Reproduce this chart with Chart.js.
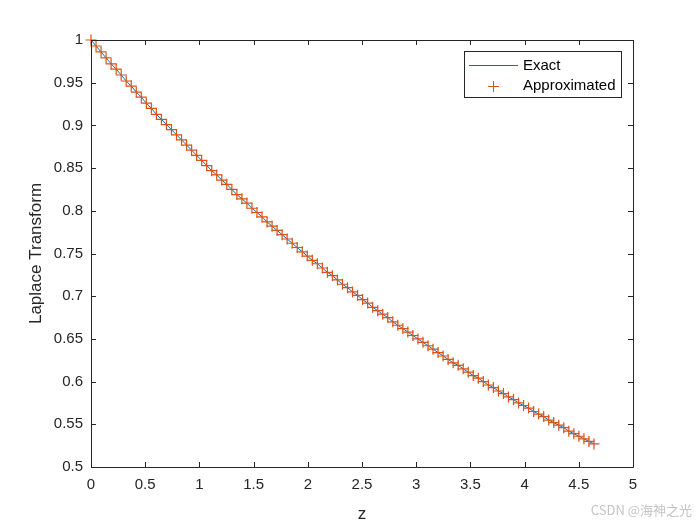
<!DOCTYPE html>
<html>
<head>
<meta charset="utf-8">
<title>Laplace Transform</title>
<script src="https://cdn.jsdelivr.net/npm/chart.js@4.4.0/dist/chart.umd.min.js"></script>
<style>
    html, body { margin: 0; padding: 0; background: #ffffff; }
    #wrap { width: 700px; height: 525px; }
</style>
</head>
<body>
<div id="wrap"><canvas id="laplace-chart" width="700" height="525"></canvas></div>
<script>
// z values (marker positions along the x axis)
const zValues = [
    0, 0.0464, 0.0928, 0.1392, 0.1856, 0.232, 0.2784, 0.3248, 0.3712, 0.4176,
    0.464, 0.5104, 0.5568, 0.6032, 0.6496, 0.696, 0.7424, 0.7888, 0.8352, 0.8816,
    0.928, 0.9744, 1.0208, 1.0672, 1.1136, 1.16, 1.2064, 1.2528, 1.2992, 1.3456,
    1.392, 1.4384, 1.4848, 1.5312, 1.5776, 1.624, 1.6704, 1.7168, 1.7632, 1.8096,
    1.856, 1.9024, 1.9488, 1.9952, 2.0416, 2.088, 2.1344, 2.1808, 2.2272, 2.2736,
    2.32, 2.3664, 2.4128, 2.4592, 2.5056, 2.552, 2.5984, 2.6448, 2.6912, 2.7376,
    2.784, 2.8304, 2.8768, 2.9232, 2.9696, 3.016, 3.0624, 3.1088, 3.1552, 3.2016,
    3.248, 3.2944, 3.3408, 3.3872, 3.4336, 3.48, 3.5264, 3.5728, 3.6192, 3.6656,
    3.712, 3.7584, 3.8048, 3.8512, 3.8976, 3.944, 3.9904, 4.0368, 4.0832, 4.1296,
    4.176, 4.2224, 4.2688, 4.3152, 4.3616, 4.408, 4.4544, 4.5008, 4.5472, 4.5936,
    4.64
];

// Exact transform
const exactValues = [
    1.000, 0.993, 0.986, 0.979, 0.972, 0.966, 0.959, 0.952, 0.946, 0.939,
    0.933, 0.926, 0.920, 0.913, 0.907, 0.901, 0.895, 0.889, 0.883, 0.877,
    0.871, 0.865, 0.859, 0.853, 0.847, 0.842, 0.836, 0.831, 0.825, 0.819,
    0.814, 0.809, 0.803, 0.798, 0.793, 0.787, 0.782, 0.777, 0.772, 0.767,
    0.762, 0.757, 0.752, 0.747, 0.742, 0.738, 0.733, 0.728, 0.724, 0.719,
    0.714, 0.710, 0.705, 0.701, 0.696, 0.692, 0.687, 0.683, 0.679, 0.675,
    0.670, 0.666, 0.662, 0.658, 0.654, 0.650, 0.646, 0.642, 0.638, 0.634,
    0.630, 0.626, 0.622, 0.619, 0.615, 0.611, 0.607, 0.604, 0.600, 0.596,
    0.593, 0.589, 0.586, 0.582, 0.579, 0.575, 0.572, 0.569, 0.565, 0.562,
    0.559, 0.555, 0.552, 0.549, 0.546, 0.542, 0.539, 0.536, 0.533, 0.530,
    0.527
];

// Approximated values (the '+' markers sit on the curve)
const approxValues = [
    1.000, 0.993, 0.986, 0.979, 0.972, 0.966, 0.959, 0.952, 0.946, 0.939,
    0.933, 0.926, 0.920, 0.913, 0.907, 0.901, 0.895, 0.889, 0.883, 0.877,
    0.871, 0.865, 0.859, 0.853, 0.847, 0.842, 0.836, 0.831, 0.825, 0.819,
    0.814, 0.809, 0.803, 0.798, 0.793, 0.787, 0.782, 0.777, 0.772, 0.767,
    0.762, 0.757, 0.752, 0.747, 0.742, 0.738, 0.733, 0.728, 0.724, 0.719,
    0.714, 0.710, 0.705, 0.701, 0.696, 0.692, 0.687, 0.683, 0.679, 0.675,
    0.670, 0.666, 0.662, 0.658, 0.654, 0.650, 0.646, 0.642, 0.638, 0.634,
    0.630, 0.626, 0.622, 0.619, 0.615, 0.611, 0.607, 0.604, 0.600, 0.596,
    0.593, 0.589, 0.586, 0.582, 0.579, 0.575, 0.572, 0.569, 0.565, 0.562,
    0.559, 0.555, 0.552, 0.549, 0.546, 0.542, 0.539, 0.536, 0.533, 0.530,
    0.527
];

const seriesLabels = ['Exact', 'Approximated'];
const xTickRange = [0, 5, 0.5];
const yTickRange = [0.5, 1, 0.05];
const axisTitles = ['z', 'Laplace Transform'];
const watermark = 'CSDN @海神之光';

const chartConfig = {
    font: '"Liberation Sans", Arial, Helvetica, sans-serif',
    axisColor: '#262626',
    blue: '#0072BD',
    orange: '#D95319',
    tickLen: 5,
};

function toPoints(xs, ys) {
    return xs.map((x, i) => ({ x: x, y: ys[i] }));
}

// MATLAB style labels: 1, 0.95, 0.5 (no padded zeros)
function shortTick(value) {
    return String(Number(value.toFixed(2)));
}

// box, inward ticks on all four sides, legend and watermark (MATLAB look)
const matlabAxesPlugin = {
    id: 'matlabAxes',
    afterDraw(chart) {
        const ctx = chart.ctx;
        const area = chart.chartArea;
        const xs = chart.scales.x;
        const ys = chart.scales.y;
        const tl = chartConfig.tickLen;

        ctx.save();
        ctx.strokeStyle = chartConfig.axisColor;
        ctx.lineWidth = 1;
        ctx.beginPath();
        ctx.rect(Math.round(area.left) + 0.5, Math.round(area.top) + 0.5,
                 Math.round(area.right - area.left), Math.round(area.bottom - area.top));
        xs.ticks.forEach(t => {
            const px = Math.round(xs.getPixelForValue(t.value)) + 0.5;
            ctx.moveTo(px, area.bottom); ctx.lineTo(px, area.bottom - tl);
            ctx.moveTo(px, area.top); ctx.lineTo(px, area.top + tl);
        });
        ys.ticks.forEach(t => {
            const py = Math.round(ys.getPixelForValue(t.value)) + 0.5;
            ctx.moveTo(area.left, py); ctx.lineTo(area.left + tl, py);
            ctx.moveTo(area.right, py); ctx.lineTo(area.right - tl, py);
        });
        ctx.stroke();

        // legend box, top right inside the axes
        const lx = 464.5, ly = 51.5, lw = 157, lh = 46;
        ctx.fillStyle = '#ffffff';
        ctx.fillRect(lx, ly, lw, lh);
        ctx.strokeRect(lx, ly, lw, lh);

        const ds = chart.data.datasets;
        ctx.font = '15px ' + chartConfig.font;
        ctx.textBaseline = 'middle';
        ctx.textAlign = 'left';
        ctx.fillStyle = '#000000';

        // Exact: line sample
        ctx.strokeStyle = chartConfig.blue;
        ctx.beginPath();
        ctx.moveTo(469, 65.5); ctx.lineTo(518, 65.5);
        ctx.stroke();
        ctx.fillText(ds[0].label, 523, 66);

        // Approximated: '+' sample
        ctx.strokeStyle = chartConfig.orange;
        ctx.beginPath();
        ctx.moveTo(488, 86.5); ctx.lineTo(499, 86.5);
        ctx.moveTo(493.5, 81); ctx.lineTo(493.5, 92);
        ctx.stroke();
        ctx.fillText(ds[1].label, 523, 86);

        // watermark
        ctx.font = '13px "Noto Sans CJK SC", "Noto Sans", sans-serif';
        ctx.fillStyle = '#c4c4c4';
        ctx.textAlign = 'right';
        ctx.fillText(watermark, 692, 510);
        ctx.restore();
    }
};

function renderLaplaceChart() {
    const ctx = document.getElementById('laplace-chart');

    new Chart(ctx, {
        type: 'scatter',
        data: {
            datasets: [{
                label: seriesLabels[0],
                data: toPoints(zValues, exactValues),
                showLine: true,
                borderColor: chartConfig.blue,
                borderWidth: 1,
                pointRadius: 0,
                tension: 0,
                order: 2,
            }, {
                label: seriesLabels[1],
                data: toPoints(zValues, approxValues),
                showLine: false,
                pointStyle: 'cross',
                pointRadius: 5.5,
                borderColor: chartConfig.orange,
                backgroundColor: chartConfig.orange,
                pointBorderWidth: 1.2,
                clip: false,
                order: 1,
            }]
        },
        options: {
            responsive: false,
            animation: false,
            devicePixelRatio: 1,
            layout: { padding: { left: 0, top: 40, right: 67, bottom: 0 } },
            scales: {
                x: {
                    type: 'linear',
                    min: xTickRange[0],
                    max: xTickRange[1],
                    grid: { display: false, drawTicks: false },
                    border: { display: false },
                    ticks: {
                        stepSize: xTickRange[2],
                        padding: 9,
                        color: chartConfig.axisColor,
                        font: { family: chartConfig.font, size: 15 },
                        maxRotation: 0,
                        callback: shortTick,
                    },
                    title: {
                        display: true,
                        text: axisTitles[0],
                        color: chartConfig.axisColor,
                        font: { family: chartConfig.font, size: 17 },
                        padding: { top: 8, bottom: 0 },
                    },
                    afterFit(scale) { scale.height = 58; }
                },
                y: {
                    type: 'linear',
                    min: yTickRange[0],
                    max: yTickRange[1],
                    grid: { display: false, drawTicks: false },
                    border: { display: false },
                    ticks: {
                        stepSize: yTickRange[2],
                        padding: 8,
                        color: chartConfig.axisColor,
                        font: { family: chartConfig.font, size: 15 },
                        callback: shortTick,
                    },
                    title: {
                        display: true,
                        text: axisTitles[1],
                        color: chartConfig.axisColor,
                        font: { family: chartConfig.font, size: 17 },
                        padding: { top: 26, bottom: 0 },
                    },
                    afterFit(scale) { scale.width = 91; }
                }
            },
            plugins: {
                legend: { display: false },
                tooltip: { enabled: false },
            }
        },
        plugins: [matlabAxesPlugin]
    });
}

renderLaplaceChart();
</script>
</body>
</html>
